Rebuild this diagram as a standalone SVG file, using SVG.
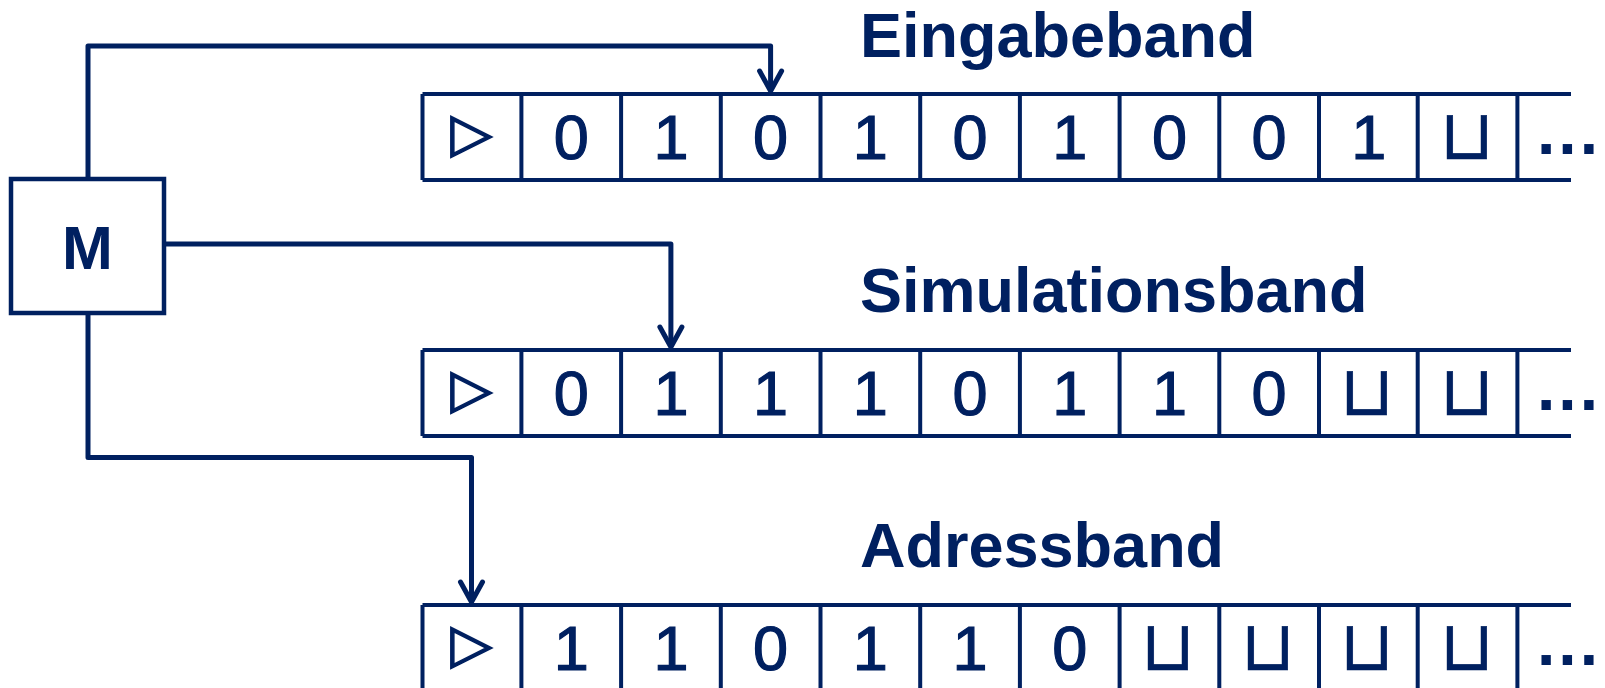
<svg xmlns="http://www.w3.org/2000/svg" width="1605" height="688" viewBox="0 0 1605 688">
<style>
.ln{stroke:#002060;stroke-width:5;fill:none;stroke-linejoin:round}
.box{stroke:#002060;stroke-width:4.5;fill:none}
.cell{stroke:#002060;stroke-width:4;fill:none}
.d{font-family:"Liberation Sans",Arial,sans-serif;font-size:63px;fill:#002060;stroke:#002060;stroke-width:1.2;text-anchor:middle}
.tri{font-family:"DejaVu Sans",sans-serif;font-size:54px;fill:#002060;stroke:#002060;stroke-width:1.5;text-anchor:middle}
.cup{font-family:"DejaVu Sans",sans-serif;font-size:70px;fill:#002060;stroke:#002060;stroke-width:0.4;text-anchor:middle}
.lbl{font-family:"Liberation Sans",Arial,sans-serif;font-weight:bold;font-size:63px;fill:#002060}
.dots{font-family:"Liberation Sans",Arial,sans-serif;font-weight:bold;font-size:66px;letter-spacing:3px;fill:#002060}
</style>
<defs>
<marker id="ar" markerUnits="userSpaceOnUse" markerWidth="28" markerHeight="30" refX="0" refY="0" orient="auto" viewBox="-25 -15 28 30">
<path d="M-20,-11 L0,0 L-20,11" stroke="#002060" stroke-width="5" fill="none" stroke-linecap="round" stroke-linejoin="round"/>
</marker>
<g id="tapeframe">
<line x1="422.5" y1="0" x2="1571" y2="0" class="cell"/>
<line x1="422.5" y1="86" x2="1571" y2="86" class="cell"/>
<path class="cell" d="M422.5,0V86M521.4,0V86M621.1,0V86M720.8,0V86M820.5,0V86M920.2,0V86M1019.9,0V86M1119.6,0V86M1219.3,0V86M1319,0V86M1417.7,0V86M1517.4,0V86"/>
</g>
</defs>
<rect width="1605" height="688" fill="#ffffff"/>

<g id="connectors">
<path class="ln" d="M88,179 V46 H770.6 V91" marker-end="url(#ar)"/>
<path class="ln" d="M164,244 H670.9 V347" marker-end="url(#ar)"/>
<path class="ln" d="M88,313 V457.5 H471.5 V602" marker-end="url(#ar)"/>
</g>

<g id="M">
<rect x="11" y="179" width="153" height="134" class="box"/>
<text x="87.5" y="269" class="lbl" style="font-size:61px" text-anchor="middle">M</text>
</g>

<g id="eingabeband">
<text x="860" y="57" class="lbl">Eingabeband</text>
<use href="#tapeframe" y="94"/>
<text class="tri" x="471.5" y="151">▷</text>
<text class="d" x="571.2" y="159">0</text>
<text class="d" x="670.9" y="159">1</text>
<text class="d" x="770.6" y="159">0</text>
<text class="d" x="870.3" y="159">1</text>
<text class="d" x="970" y="159">0</text>
<text class="d" x="1069.7" y="159">1</text>
<text class="d" x="1169.4" y="159">0</text>
<text class="d" x="1269.1" y="159">0</text>
<text class="d" x="1368.8" y="159">1</text>
<text class="cup" x="1467" y="158.5">⊔</text>
<text class="dots" x="1537" y="154">...</text>
</g>

<g id="simulationsband">
<text x="860" y="312" class="lbl">Simulationsband</text>
<use href="#tapeframe" y="350"/>
<text class="tri" x="471.5" y="407">▷</text>
<text class="d" x="571.2" y="415">0</text>
<text class="d" x="670.9" y="415">1</text>
<text class="d" x="770.6" y="415">1</text>
<text class="d" x="870.3" y="415">1</text>
<text class="d" x="970" y="415">0</text>
<text class="d" x="1069.7" y="415">1</text>
<text class="d" x="1169.4" y="415">1</text>
<text class="d" x="1269.1" y="415">0</text>
<text class="cup" x="1367" y="414.5">⊔</text>
<text class="cup" x="1467" y="414.5">⊔</text>
<text class="dots" x="1537" y="410">...</text>
</g>

<g id="adressband">
<text x="860" y="567" class="lbl">Adressband</text>
<use href="#tapeframe" y="605"/>
<text class="tri" x="471.5" y="662">▷</text>
<text class="d" x="571.2" y="670">1</text>
<text class="d" x="670.9" y="670">1</text>
<text class="d" x="770.6" y="670">0</text>
<text class="d" x="870.3" y="670">1</text>
<text class="d" x="970" y="670">1</text>
<text class="d" x="1069.7" y="670">0</text>
<text class="cup" x="1168" y="669.5">⊔</text>
<text class="cup" x="1268" y="669.5">⊔</text>
<text class="cup" x="1367" y="669.5">⊔</text>
<text class="cup" x="1467" y="669.5">⊔</text>
<text class="dots" x="1537" y="665">...</text>
</g>
</svg>
